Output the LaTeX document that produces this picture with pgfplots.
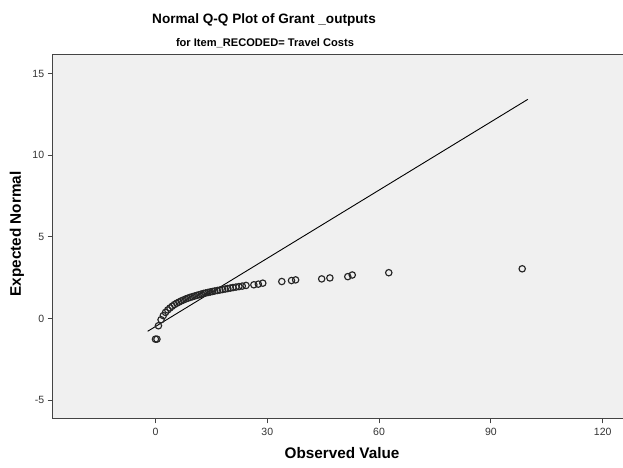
\documentclass[border=0pt]{standalone}
\usepackage{pgfplots}
\pgfplotsset{compat=1.18}
\usepackage{fontspec}
\setmainfont{Liberation Sans}

\definecolor{panel}{HTML}{F0F0F0}
\definecolor{frame}{HTML}{444444}

% Observed value vs. expected normal quantile
\pgfplotstableread{
obs   expn
0.0   -1.27
0.4   -1.27
0.8   -0.45
1.5   -0.08
2.1   0.17
2.7   0.37
3.3   0.52
3.9   0.64
4.5   0.75
5.1   0.85
5.7   0.93
6.3   1.00
6.9   1.07
7.5   1.13
8.1   1.19
8.7   1.24
9.3   1.29
9.9   1.33
10.5  1.37
11.1  1.41
11.7  1.45
12.3  1.49
12.9  1.53
13.5  1.56
14.1  1.59
14.7  1.62
15.3  1.65
15.9  1.68
16.6  1.71
17.3  1.74
18.0  1.77
18.7  1.80
19.4  1.83
20.1  1.86
20.8  1.89
21.6  1.92
22.4  1.95
23.3  1.98
24.3  2.02
26.4  2.06
27.6  2.10
28.8  2.16
33.9  2.26
36.5  2.32
37.6  2.36
44.6  2.42
46.8  2.48
51.6  2.56
52.8  2.66
62.6  2.80
98.4  3.04
}\qq

% Reference line
\pgfplotstableread{
obs   expn
-2.1  -0.79
99.9  13.42
}\refline

\begin{document}
\begin{tikzpicture}
\useasboundingbox[fill=white] (0,0) rectangle (623pt,467pt);
\begin{axis}[
  at={(52.7pt,48.7pt)}, anchor=south west,
  scale only axis, width=572pt, height=364pt,
  xmin=-27.57, xmax=125.9, ymin=-6.12, ymax=16.18,
  axis background/.style={fill=panel},
  axis line style={draw=frame, line width=1.2pt},
  xtick={0,30,60,90,120}, ytick={-5,0,5,10,15},
  tick pos=left, tick align=outside,
  major tick length=5pt,
  tick style={draw=frame, line width=0.9pt},
  ticklabel style={font=\fontsize{10.5}{12}\selectfont, text=black!80},
  /pgf/number format/assume math mode=true,
  xticklabel style={yshift=-1pt},
  clip=true,
]
\addplot[black, line width=0.9pt] table[x=obs, y=expn] {\refline};
\addplot[only marks, mark=o, mark size=3.2pt, mark options={draw=black!85, line width=1.15pt}]
  table[x=obs, y=expn] {\qq};
\end{axis}
\node[font=\bfseries\fontsize{13.6}{16}\selectfont] at (264pt,447pt) {Normal Q-Q Plot of Grant \_outputs};
\node[font=\bfseries\fontsize{11.1}{13}\selectfont] at (265pt,424pt) {for Item\_RECODED= Travel Costs};
\node[font=\bfseries\fontsize{15.3}{17}\selectfont] at (342pt,14pt) {Observed Value};
\node[font=\bfseries\fontsize{15.3}{17}\selectfont, rotate=90] at (17pt,233pt) {Expected Normal};
\end{tikzpicture}
\end{document}
